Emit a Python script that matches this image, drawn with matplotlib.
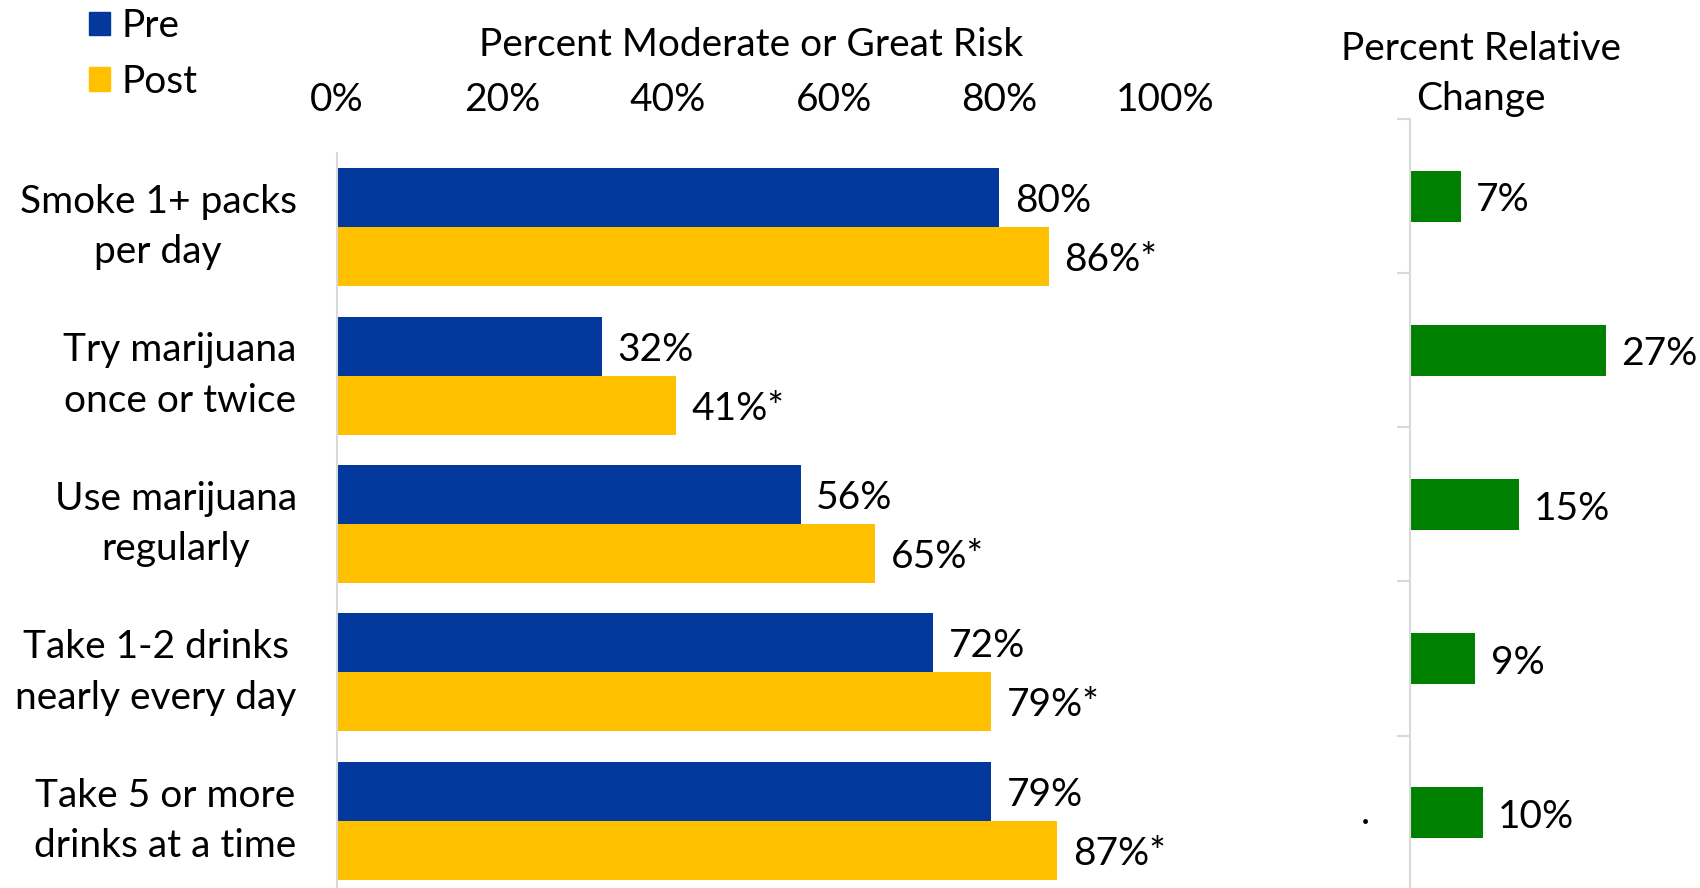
import matplotlib
matplotlib.use("Agg")
import matplotlib.pyplot as plt
import matplotlib.ticker as mticker
from matplotlib.patches import Patch
import numpy as np

categories = ["Smoke 1+ packs\nper day", "Try marijuana\nonce or twice", "Use marijuana\nregularly",
              "Take 1-2 drinks\nnearly every day", "Take 5 or more\ndrinks at a time"]
pre = [80, 32, 56, 72, 79]
post = [86, 41, 65, 79, 87]
post_labels = ["86%*", "41%*", "65%*", "79%*", "87%*"]
change = [7, 27, 15, 9, 10]
xticks = [0, 20, 40, 60, 80, 100]

C_PRE = "#03389C"
C_POST = "#FFC000"
C_GREEN = "#008000"
C_AX = "#D9D9D9"
FONT = "Lato"
FS = 28

plt.rcParams['font.family'] = [FONT, 'DejaVu Sans']

fig = plt.figure(figsize=(17, 8.88), dpi=100)

# Left panel
ax = fig.add_axes([0.1982, -0.0079, 0.4871, 0.8356])
y = np.arange(len(categories))
h = 0.397
ax.barh(y - h / 2, pre, height=h, color=C_PRE)
ax.barh(y + h / 2, post, height=h, color=C_POST)
ax.set_ylim(len(categories) - 0.5, -0.5)
ax.set_xlim(0, 100)
ax.xaxis.tick_top()
ax.set_xticks(xticks)
ax.xaxis.set_major_formatter(mticker.FuncFormatter(lambda v, p: f"{v:.0f}%"))
ax.tick_params(axis='x', length=0, labelsize=FS, pad=25)
ax.set_yticks([])
for s in ['top', 'right', 'bottom']:
    ax.spines[s].set_visible(False)
ax.spines['left'].set_color(C_AX)
ax.spines['left'].set_linewidth(1.5)
ax.set_title("Percent Moderate or Great Risk", fontsize=FS, pad=70)

for i, (a, b) in enumerate(zip(pre, post)):
    ax.annotate(f"{a}%", (a, i - h / 2), xytext=(11, -2.5), textcoords='offset points',
                va='center', ha='left', fontsize=FS)
    ax.annotate(post_labels[i], (b, i + h / 2), xytext=(11, -2.5), textcoords='offset points',
                va='center', ha='left', fontsize=FS)
for i, c in enumerate(categories):
    ax.annotate(c, (0, i), xycoords=('axes fraction', 'data'), xytext=(-29, 0),
                textcoords='offset points', ha='right', va='center', multialignment='center',
                fontsize=FS, linespacing=1.5)

# Right panel
ax2 = fig.add_axes([0.8294, -0.002, 0.1282, 0.868])
ax2.barh(y, change, height=0.33, color=C_GREEN)
ax2.set_ylim(len(categories) - 0.5, -0.5)
ax2.set_xlim(0, 30)
ax2.set_xticks([])
ax2.set_yticks(np.arange(len(categories)) - 0.5)
ax2.set_yticklabels([])
ax2.tick_params(axis='y', length=9.5, width=1.5, color=C_AX, direction='out')
for s in ['top', 'right', 'bottom']:
    ax2.spines[s].set_visible(False)
ax2.spines['left'].set_color(C_AX)
ax2.spines['left'].set_linewidth(1.5)
for i, c in enumerate(change):
    ax2.annotate(f"{c}%", (c, i), xytext=(11, -3), textcoords='offset points',
                 va='center', ha='left', fontsize=FS)
ax2.text(0.326, 1.002, "Percent Relative\nChange", transform=ax2.transAxes, ha='center',
         va='bottom', fontsize=FS, linespacing=1.5)
ax2.annotate(".", (0, 4), xycoords=('axes fraction', 'data'), xytext=(-32, 0),
             textcoords='offset points', ha='center', va='center', fontsize=FS)

fig.legend(handles=[Patch(color=C_PRE), Patch(color=C_POST)], labels=["Pre", "Post"],
           loc='upper left', bbox_to_anchor=(0.0315, 1.03), frameon=False, fontsize=FS,
           handlelength=0.56, handleheight=0.56, handletextpad=0.3, labelspacing=0.5)

fig.savefig("out.png", dpi=100)
